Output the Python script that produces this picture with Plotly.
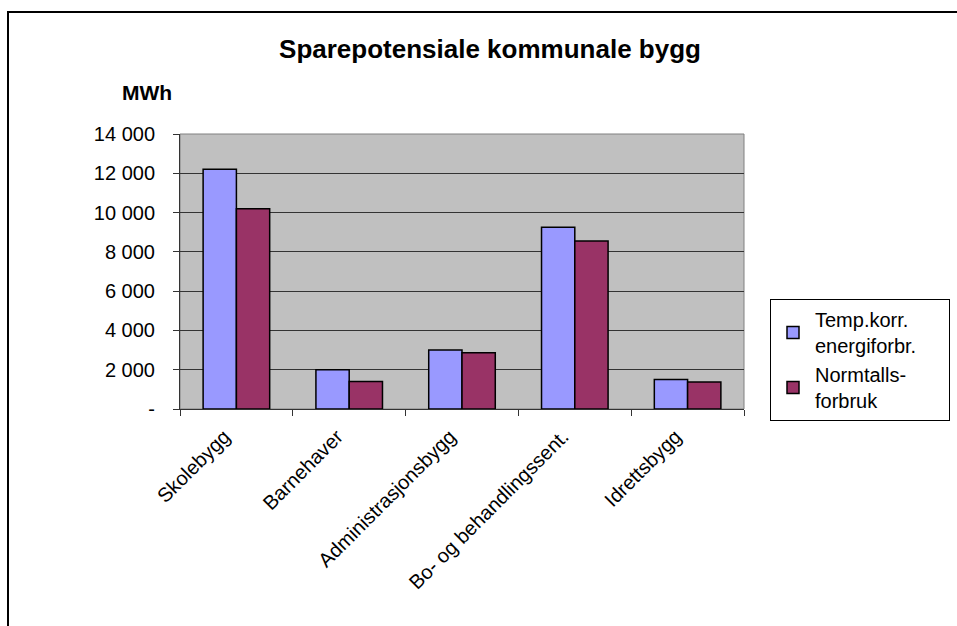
import plotly.graph_objects as go

categories = ["Skolebygg", "Barnehaver", "Administrasjonsbygg",
              "Bo- og behandlingssent.", "Idrettsbygg"]
temp_korr = [12200, 2000, 3000, 9250, 1500]
normtall = [10200, 1400, 2870, 8550, 1380]
series_names = ["Temp.korr.<br>energiforbr.&nbsp;&nbsp;&nbsp;&nbsp;&nbsp;", "Normtalls-<br>forbruk"]
y_tickvals = [0, 2000, 4000, 6000, 8000, 10000, 12000, 14000]
y_ticktext = ["-", "2 000", "4 000", "6 000", "8 000", "10 000", "12 000", "14 000"]

W, H = 957, 626
L, R, T, B = 180, 744, 134, 409


def px_x(p):
    return (p - L) / (R - L)


def px_y(p):
    return (B - p) / (B - T)


FONT = "Liberation Sans, Arial, sans-serif"

fig = go.Figure()
fig.add_trace(go.Bar(x=categories, y=temp_korr, name=series_names[0],
                     marker=dict(color="#9999FF", line=dict(color="black", width=1.5))))
fig.add_trace(go.Bar(x=categories, y=normtall, name=series_names[1],
                     marker=dict(color="#993366", line=dict(color="black", width=1.5))))

fig.update_layout(
    width=W, height=H,
    margin=dict(l=L, r=W - R, t=T, b=H - B, pad=0, autoexpand=False),
    paper_bgcolor="white",
    plot_bgcolor="#C0C0C0",
    font=dict(family=FONT, size=20, color="black"),
    barmode="group", bargap=0.41, bargroupgap=0,
    title=dict(text="<b>Sparepotensiale kommunale bygg</b>", x=490 / W, xanchor="center",
               y=1 - 49 / H, yanchor="middle", font=dict(size=26, family=FONT, color="black")),
    showlegend=True,
    legend=dict(x=px_x(770), y=px_y(299), xanchor="left", yanchor="top",
                bordercolor="black", borderwidth=1, bgcolor="white", itemwidth=34,
                font=dict(size=20, family=FONT), tracegroupgap=8),
    xaxis=dict(showgrid=False, ticks="outside", tickson="boundaries", ticklen=6,
               tickcolor="#333333", tickangle=-45, showline=True, linecolor="#333333",
               linewidth=1, tickfont=dict(size=20), ticklabelstandoff=7,
               ticklabelshift=-12),
    yaxis=dict(range=[0, 14000], tickvals=y_tickvals, ticktext=y_ticktext,
               showgrid=True, gridcolor="#333333", gridwidth=1, ticks="outside",
               ticklen=6, tickcolor="#333333", showline=True, linecolor="#333333",
               linewidth=1, zeroline=False, ticklabelstandoff=14, tickfont=dict(size=20)),
    annotations=[dict(text="<b>MWh</b>", xref="paper", yref="paper", x=px_x(147), y=px_y(93),
                      xanchor="center", yanchor="middle", showarrow=False,
                      font=dict(size=21, family=FONT))],
    shapes=[
        dict(type="rect", xref="paper", yref="paper", x0=0, x1=1, y0=0, y1=1,
             line=dict(color="#808080", width=1), layer="below"),
        dict(type="path", xref="paper", yref="paper",
             path=f"M {px_x(8)} {px_y(H + 5)} L {px_x(8)} {px_y(12)} L {px_x(W + 5)} {px_y(12)}",
             line=dict(color="black", width=2)),
    ],
)

fig.write_html("out.html", config={"displayModeBar": False},
               post_script="document.body.style.margin='0';document.body.style.overflow='hidden';")
